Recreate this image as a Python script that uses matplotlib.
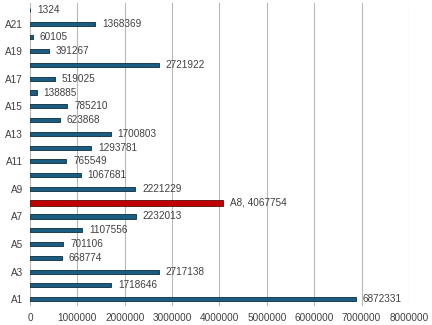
import numpy as np
import matplotlib as mpl
from matplotlib import pyplot as plt

# data ------------------------------------------------------------------------
cats = ['A%d' % i for i in range(1, 23)]
vals = [6872331, 1718646, 2717138, 668774, 701106, 1107556, 2232013,
        4067754, 2221229, 1067681, 765549, 1293781, 1700803, 623868,
        785210, 138885, 519025, 2721922, 391267, 60105, 1368369, 1324]
highlight = 'A8'
xticks = [0, 1000000, 2000000, 3000000, 4000000, 5000000, 6000000, 7000000, 8000000]

plt.rcParams['font.family'] = ['Liberation Sans', 'DejaVu Sans']

fig = plt.figure(figsize=(4.32, 3.25), dpi=100)
ax = fig.add_axes([30/432, 1-306/325, 379/432, 303/325])

y = np.arange(len(cats))
blue, blue_edge = '#1b5d80', '#0c2c40'
red, red_edge = '#c00000', '#5a0a0a'

for yi, c, v in zip(y, cats, vals):
    if c == highlight:
        ax.barh(yi, v, height=0.45, color=red, edgecolor=red_edge, lw=0.6, zorder=3)
        txt = '%s, %d' % (c, v)
    else:
        ax.barh(yi, v, height=0.3, color=blue, edgecolor=blue_edge, lw=0.6, zorder=3)
        txt = '%d' % v
    ax.annotate(txt, (v, yi), xytext=(5, 0), textcoords='offset points',
                va='center', ha='left', fontsize=7.2, color='#404040')

ax.set_xlim(0, 8000000)
ax.set_ylim(-0.5, len(cats) - 0.5)
ax.set_xticks(xticks)
ax.set_xticklabels([str(t) for t in xticks])
ax.set_yticks(y[::2])
ax.set_yticklabels(cats[::2])
ax.tick_params(length=0, labelsize=7.2, labelcolor='#404040')
ax.tick_params(axis='x', pad=5)
ax.tick_params(axis='y', pad=5)
for s in ax.spines.values():
    s.set_visible(False)
ax.grid(axis='x', color='#b8b8b8', lw=0.8, zorder=0)
ax.set_axisbelow(True)

fig.savefig('out.png', dpi=100, facecolor='white')
